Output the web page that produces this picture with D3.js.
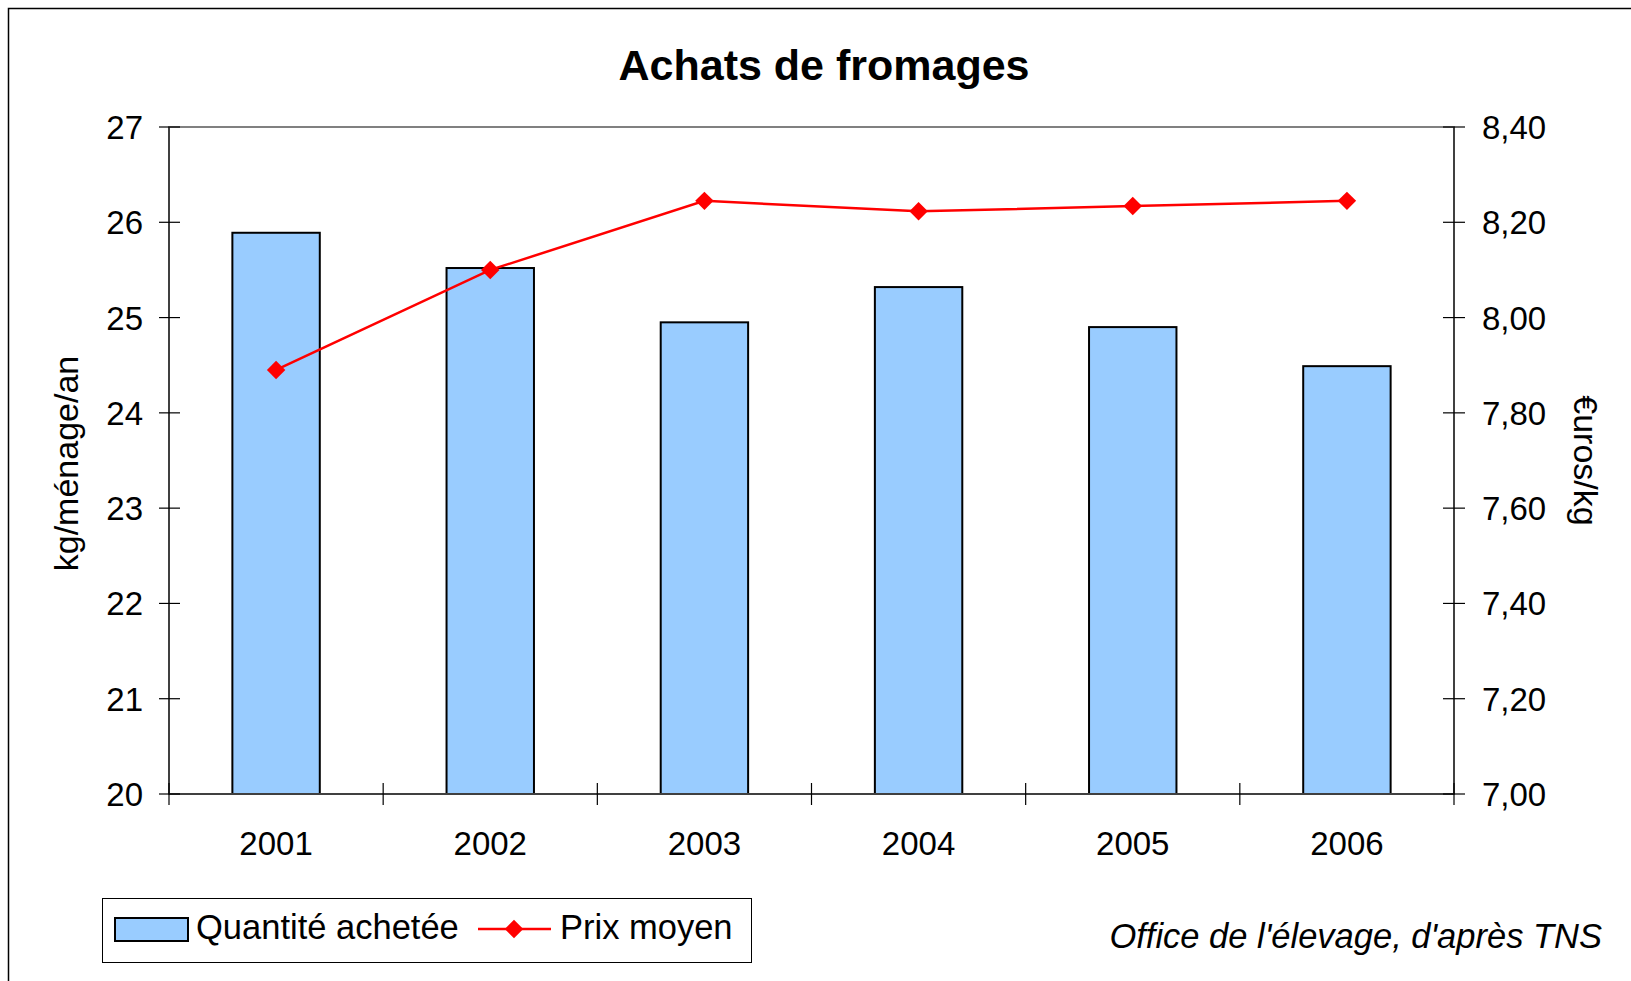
<!DOCTYPE html>
<html lang="fr">
<head>
<meta charset="utf-8">
<title>Achats de fromages</title>
<script src="https://cdnjs.cloudflare.com/ajax/libs/d3/7.8.5/d3.min.js"></script>
<style>
  body { margin: 0; background: #fff; }
  svg text { font-family: "Liberation Sans", Arial, sans-serif; fill: #000; }
</style>
</head>
<body>
<script>

// data
var years = ["2001", "2002", "2003", "2004", "2005", "2006"];
var quantite = [25.89, 25.52, 24.95, 25.32, 24.9, 24.49];
var prix = [7.89, 8.10, 8.245, 8.223, 8.234, 8.245];
var leftTicks = [20, 21, 22, 23, 24, 25, 26, 27];
var rightTicks = [7.0, 7.2, 7.4, 7.6, 7.8, 8.0, 8.2, 8.4];

var W = 1631, H = 981;
var plot = {left: 169, right: 1454, top: 127, bottom: 794};

var svg = d3.select("body").append("svg")
	.attr("width", W)
	.attr("height", H);

// chart border (runs off right and bottom)
svg.append("rect")
	.attr("x", 8.5).attr("y", 8.5)
	.attr("width", W).attr("height", H)
	.attr("fill", "#fff")
	.attr("stroke", "#000")
	.attr("stroke-width", 1.5);

// title
svg.append("text")
	.attr("x", 824).attr("y", 80)
	.attr("text-anchor", "middle")
	.attr("font-size", 43)
	.attr("font-weight", "bold")
	.text("Achats de fromages");

var x = d3.scaleBand().domain(years).range([plot.left, plot.right]).padding(0);
var yL = d3.scaleLinear().domain([20, 27]).range([plot.bottom, plot.top]);
var yR = d3.scaleLinear().domain([7.0, 8.4]).range([plot.bottom, plot.top]);

// plot area border
svg.append("rect")
	.attr("x", plot.left).attr("y", plot.top)
	.attr("width", plot.right - plot.left)
	.attr("height", plot.bottom - plot.top)
	.attr("fill", "none")
	.attr("stroke", "#808080")
	.attr("stroke-width", 2);

// bars, gap width 145%
var barW = x.bandwidth() / 2.45;
svg.selectAll(".bar").data(years).enter()
	.append("rect")
	.attr("class", "bar")
	.attr("x", function(d) { return x(d) + x.bandwidth() / 2 - barW / 2; })
	.attr("y", function(d, i) { return yL(quantite[i]); })
	.attr("width", barW)
	.attr("height", function(d, i) { return yL(20) - yL(quantite[i]); })
	.attr("fill", "#99ccff")
	.attr("stroke", "#000")
	.attr("stroke-width", 2);

// axis lines
var axes = svg.append("g").attr("stroke", "#000").attr("stroke-width", 1.2);
axes.append("line").attr("x1", plot.left).attr("x2", plot.left).attr("y1", plot.top).attr("y2", plot.bottom).attr("stroke", "#404040").attr("stroke-width", 2);
axes.append("line").attr("x1", plot.right).attr("x2", plot.right).attr("y1", plot.top).attr("y2", plot.bottom).attr("stroke", "#404040").attr("stroke-width", 2);
axes.append("line").attr("x1", plot.left).attr("x2", plot.right).attr("y1", plot.bottom).attr("y2", plot.bottom).attr("stroke", "#404040").attr("stroke-width", 2);

// left ticks
axes.selectAll(".tl").data(leftTicks).enter().append("line")
	.attr("x1", plot.left - 10).attr("x2", plot.left + 11)
	.attr("y1", function(d) { return yL(d); })
	.attr("y2", function(d) { return yL(d); });
svg.selectAll(".ll").data(leftTicks).enter().append("text")
	.attr("x", plot.left - 26)
	.attr("y", function(d) { return yL(d) + 12; })
	.attr("text-anchor", "end")
	.attr("font-size", 33)
	.text(function(d) { return d; });

// right ticks
axes.selectAll(".tr").data(rightTicks).enter().append("line")
	.attr("x1", plot.right - 11).attr("x2", plot.right + 11)
	.attr("y1", function(d) { return yR(d); })
	.attr("y2", function(d) { return yR(d); });
svg.selectAll(".rl").data(rightTicks).enter().append("text")
	.attr("x", plot.right + 28)
	.attr("y", function(d) { return yR(d) + 12; })
	.attr("font-size", 33)
	.text(function(d) { return d.toFixed(2).replace(".", ","); });

// x ticks at category boundaries
var bounds = years.map(function(d) { return x(d); }).concat([plot.right]);
axes.selectAll(".tx").data(bounds).enter().append("line")
	.attr("x1", function(d) { return d; })
	.attr("x2", function(d) { return d; })
	.attr("y1", plot.bottom - 11)
	.attr("y2", plot.bottom + 11);
svg.selectAll(".xl").data(years).enter().append("text")
	.attr("x", function(d) { return x(d) + x.bandwidth() / 2; })
	.attr("y", 855)
	.attr("text-anchor", "middle")
	.attr("font-size", 33)
	.text(function(d) { return d; });

// axis titles
svg.append("text")
	.attr("transform", "translate(78," + ((plot.top + plot.bottom) / 2 + 3) + ") rotate(-90)")
	.attr("text-anchor", "middle")
	.attr("font-size", 34)
	.text("kg/ménage/an");
svg.append("text")
	.attr("transform", "translate(1574," + (plot.top + plot.bottom) / 2 + ") rotate(90)")
	.attr("text-anchor", "middle")
	.attr("font-size", 34)
	.text("€uros/kg");

// price line
var line = d3.line()
	.x(function(d, i) { return x(years[i]) + x.bandwidth() / 2; })
	.y(function(d) { return yR(d); });
svg.append("path")
	.datum(prix)
	.attr("d", line)
	.attr("fill", "none")
	.attr("stroke", "#ff0000")
	.attr("stroke-width", 2.5);

var diamond = d3.symbol().type(d3.symbolSquare).size(170);
svg.selectAll(".pt").data(prix).enter().append("path")
	.attr("d", diamond)
	.attr("transform", function(d, i) {
		return "translate(" + (x(years[i]) + x.bandwidth() / 2) + "," + yR(d) + ") rotate(45)";
	})
	.attr("fill", "#ff0000");

// legend
var leg = svg.append("g");
leg.append("rect")
	.attr("x", 102.5).attr("y", 898.5)
	.attr("width", 649).attr("height", 64)
	.attr("fill", "#fff")
	.attr("stroke", "#000")
	.attr("stroke-width", 1);
leg.append("rect")
	.attr("x", 115).attr("y", 918)
	.attr("width", 73).attr("height", 23)
	.attr("fill", "#99ccff")
	.attr("stroke", "#000")
	.attr("stroke-width", 2);
leg.append("text")
	.attr("x", 196).attr("y", 939)
	.attr("font-size", 34.5)
	.text("Quantité achetée");
leg.append("line")
	.attr("x1", 478).attr("x2", 551)
	.attr("y1", 929).attr("y2", 929)
	.attr("stroke", "#ff0000")
	.attr("stroke-width", 2.5);
leg.append("path")
	.attr("d", diamond)
	.attr("transform", "translate(514,929) rotate(45)")
	.attr("fill", "#ff0000");
leg.append("text")
	.attr("x", 560).attr("y", 939)
	.attr("font-size", 34.5)
	.text("Prix moyen");

// source
svg.append("text")
	.attr("x", 1602).attr("y", 948)
	.attr("text-anchor", "end")
	.attr("font-size", 34.5)
	.attr("font-style", "italic")
	.text("Office de l'élevage, d'après TNS");

</script>
</body>
</html>
